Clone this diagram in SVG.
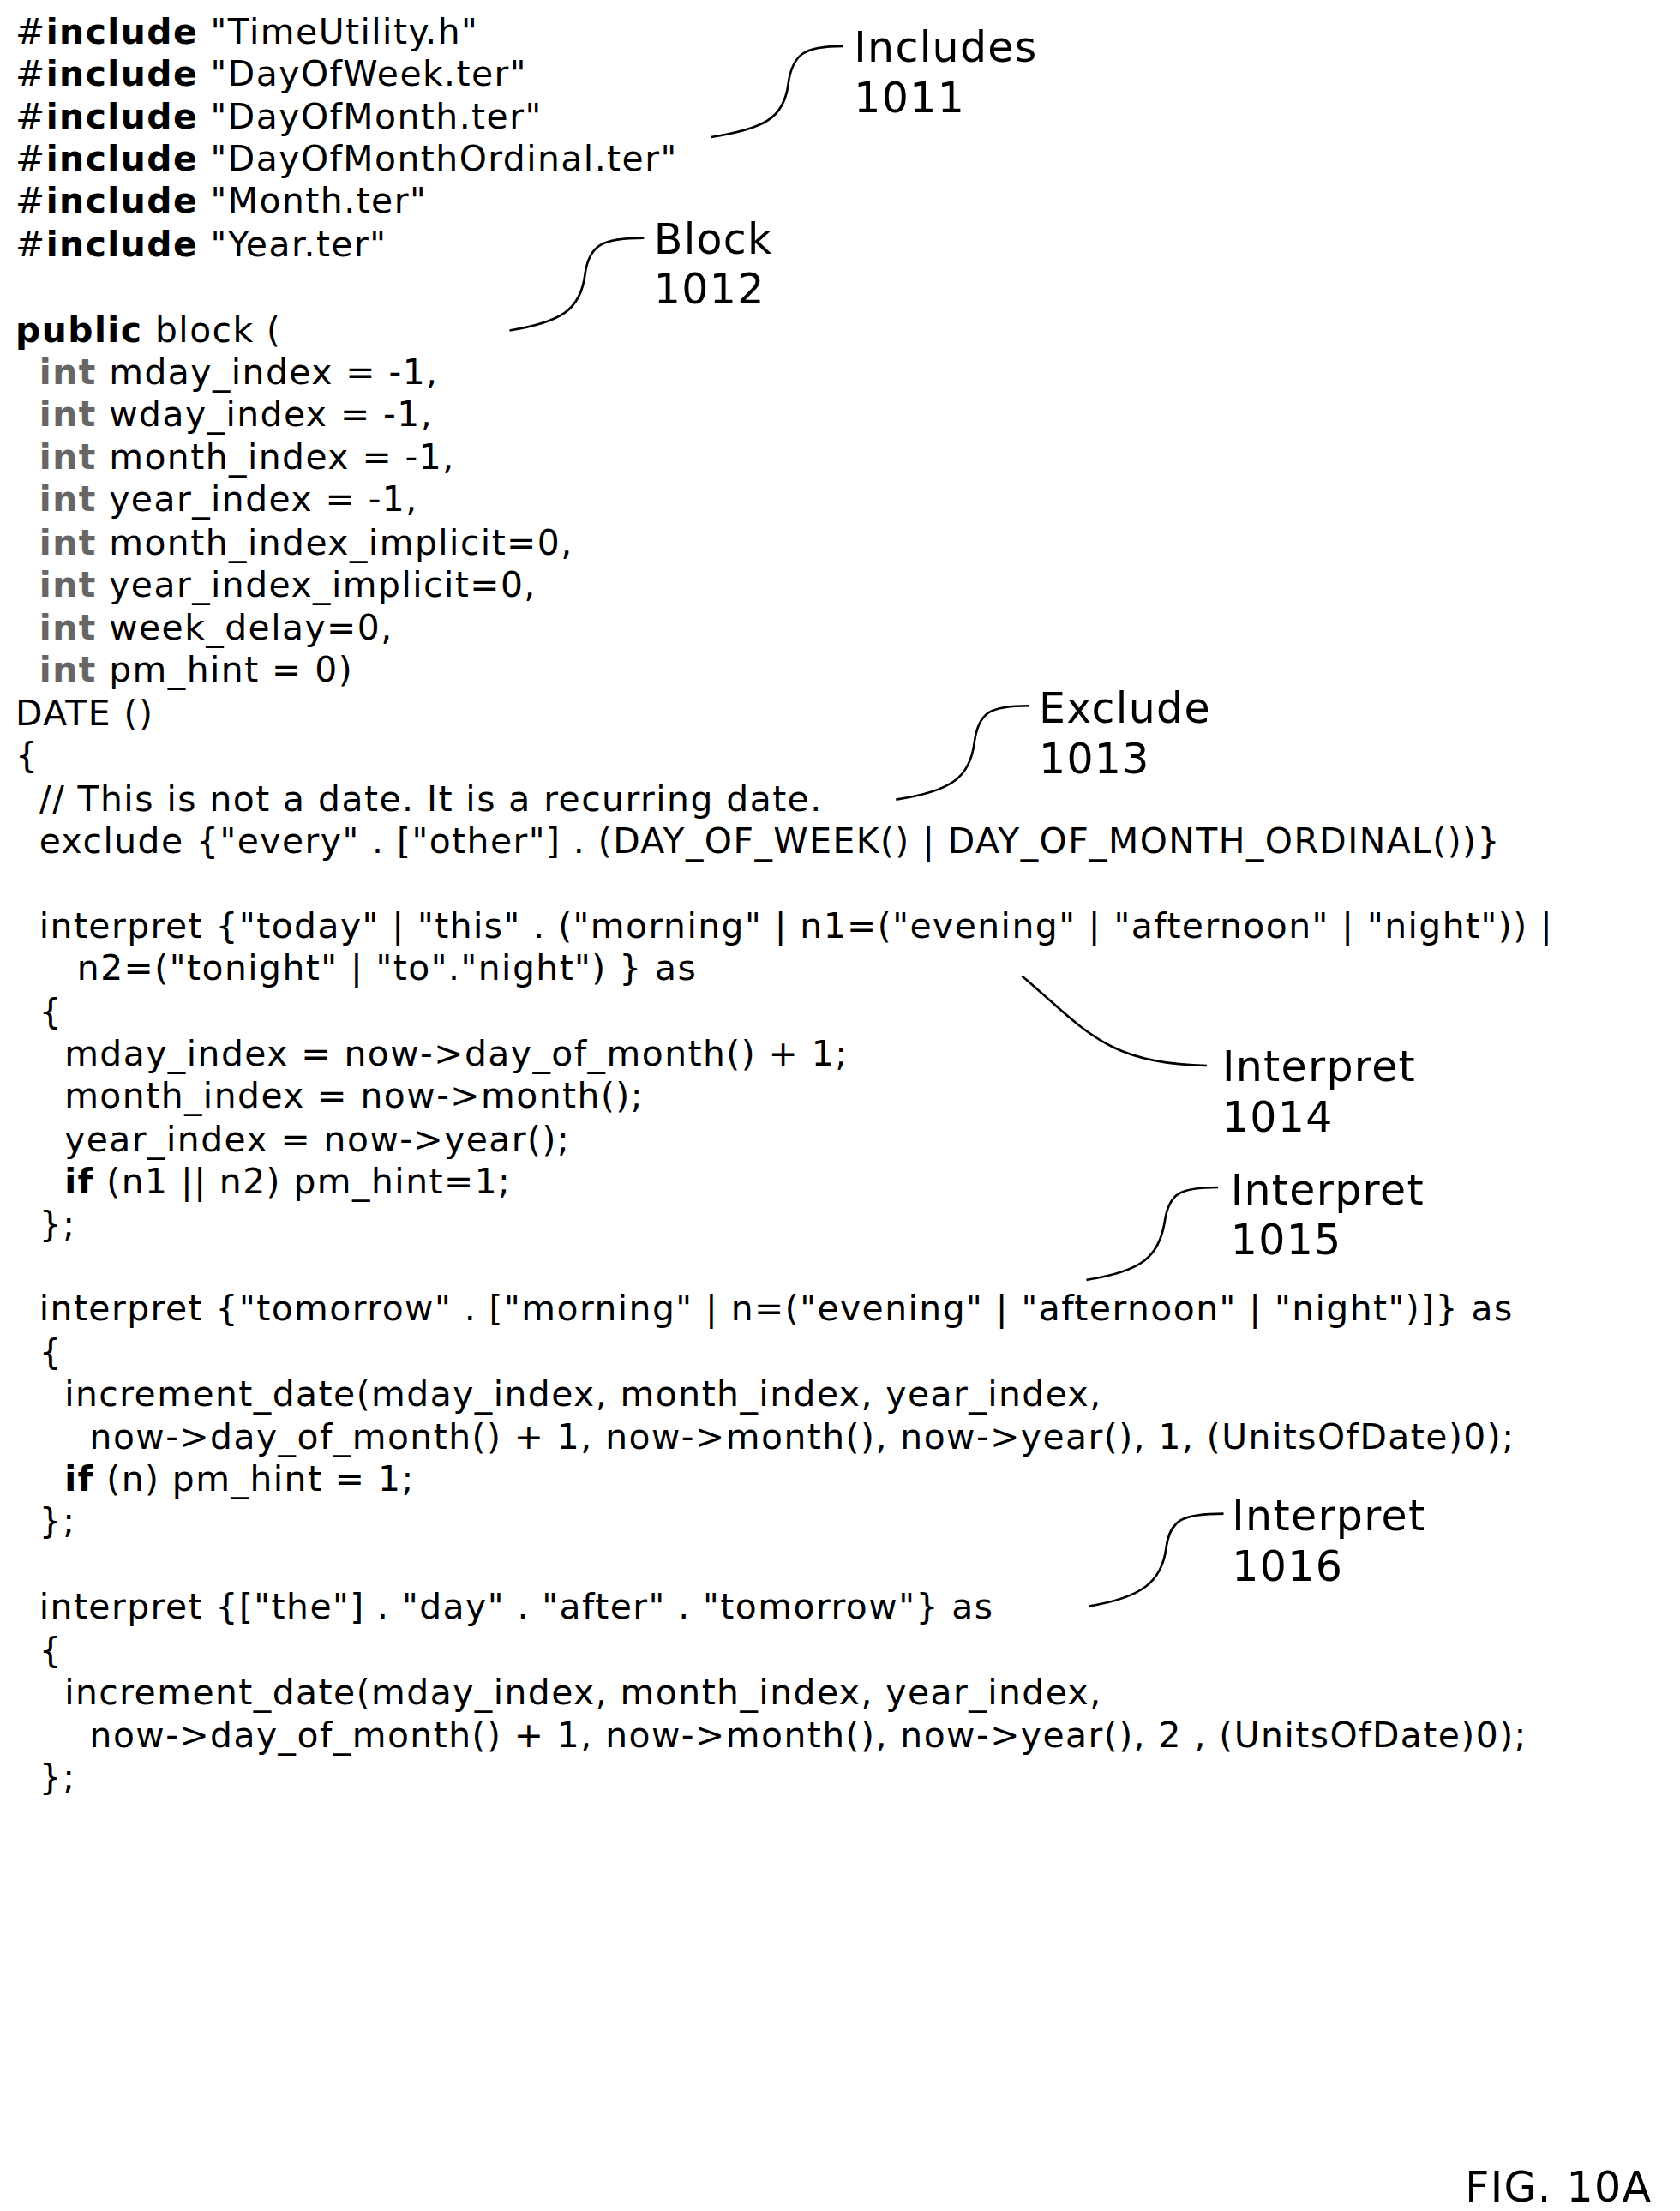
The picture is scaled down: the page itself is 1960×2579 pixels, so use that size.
<svg xmlns="http://www.w3.org/2000/svg" width="1960" height="2579" viewBox="0 0 1960 2579">
<style>
text{font-family:"DejaVu Sans",Verdana,sans-serif;fill:#000}
.c{font-size:25px;letter-spacing:0.9px}
.l{font-size:30px;letter-spacing:0.8px}
.b{font-weight:bold}
.i{font-weight:bold;fill:#666}
.ld{fill:none;stroke:#000;stroke-width:1.6}
</style>
<rect width="1960" height="2579" fill="#fff"/>
<g transform="scale(1.63333)">
<g id="code" class="c">
<text x="11" y="31">#<tspan class="b">include</tspan> "TimeUtility.h"</text>
<text x="11" y="61">#<tspan class="b">include</tspan> "DayOfWeek.ter"</text>
<text x="11" y="92">#<tspan class="b">include</tspan> "DayOfMonth.ter"</text>
<text x="11" y="122">#<tspan class="b">include</tspan> "DayOfMonthOrdinal.ter"</text>
<text x="11" y="152">#<tspan class="b">include</tspan> "Month.ter"</text>
<text x="11" y="183">#<tspan class="b">include</tspan> "Year.ter"</text>
<text x="11" y="244"><tspan class="b">public</tspan> block (</text>
<text x="28" y="274"><tspan class="i">int</tspan> mday_index = -1,</text>
<text x="28" y="304"><tspan class="i">int</tspan> wday_index = -1,</text>
<text x="28" y="335"><tspan class="i">int</tspan> month_index = -1,</text>
<text x="28" y="365"><tspan class="i">int</tspan> year_index = -1,</text>
<text x="28" y="396"><tspan class="i">int</tspan> month_index_implicit=0,</text>
<text x="28" y="426"><tspan class="i">int</tspan> year_index_implicit=0,</text>
<text x="28" y="457"><tspan class="i">int</tspan> week_delay=0,</text>
<text x="28" y="487"><tspan class="i">int</tspan> pm_hint = 0)</text>
<text x="11" y="518">DATE ()</text>
<text x="11" y="548">{</text>
<text x="28" y="579">// This is not a date. It is a recurring date.</text>
<text x="28" y="609">exclude {"every" . ["other"] . (DAY_OF_WEEK() | DAY_OF_MONTH_ORDINAL())}</text>
<text x="28" y="670">interpret {"today" | "this" . ("morning" | n1=("evening" | "afternoon" | "night")) |</text>
<text x="55" y="700">n2=("tonight" | "to"."night") } as</text>
<text x="28" y="731">{</text>
<text x="46" y="761">mday_index = now-&gt;day_of_month() + 1;</text>
<text x="46" y="791">month_index = now-&gt;month();</text>
<text x="46" y="822">year_index = now-&gt;year();</text>
<text x="46" y="852"><tspan class="b">if</tspan> (n1 || n2) pm_hint=1;</text>
<text x="28" y="883">};</text>
<text x="28" y="943">interpret {"tomorrow" . ["morning" | n=("evening" | "afternoon" | "night")]} as</text>
<text x="28" y="974">{</text>
<text x="46" y="1004">increment_date(mday_index, month_index, year_index,</text>
<text x="64" y="1035">now-&gt;day_of_month() + 1, now-&gt;month(), now-&gt;year(), 1, (UnitsOfDate)0);</text>
<text x="46" y="1065"><tspan class="b">if</tspan> (n) pm_hint = 1;</text>
<text x="28" y="1095">};</text>
<text x="28" y="1156">interpret {["the"] . "day" . "after" . "tomorrow"} as</text>
<text x="28" y="1187">{</text>
<text x="46" y="1217">increment_date(mday_index, month_index, year_index,</text>
<text x="64" y="1248">now-&gt;day_of_month() + 1, now-&gt;month(), now-&gt;year(), 2 , (UnitsOfDate)0);</text>
<text x="28" y="1278">};</text>
</g>
<g id="connectors">
<path class="ld" d="M508,98 C545,92 560,85 563,60 C566,38 575,33 602,33"/>
<path class="ld" d="M364,236 C400,230 415,222 418,195 C421,175 430,170 460,170"/>
<path class="ld" d="M640,571 C680,565 693,555 696,530 C699,508 708,504 735,504"/>
<path class="ld" d="M730,697 C775,735 790,760 862,761"/>
<path class="ld" d="M776,914 C815,908 828,898 832,872 C835,852 843,848 870,848"/>
<path class="ld" d="M778,1147 C815,1141 830,1130 833,1105 C836,1085 845,1081 874,1081"/>
</g>
<g id="label1011" class="l"><text x="610" y="44">Includes</text><text x="610" y="80">1011</text></g>
<g id="label1012" class="l"><text x="467" y="181">Block</text><text x="467" y="217">1012</text></g>
<g id="label1013" class="l"><text x="742" y="516">Exclude</text><text x="742" y="552">1013</text></g>
<g id="label1014" class="l"><text x="873" y="772">Interpret</text><text x="873" y="808">1014</text></g>
<g id="label1015" class="l"><text x="879" y="860">Interpret</text><text x="879" y="896">1015</text></g>
<g id="label1016" class="l"><text x="880" y="1093">Interpret</text><text x="880" y="1129">1016</text></g>
<g id="fig" class="l"><text x="1180" y="1572" text-anchor="end">FIG. 10A</text></g>
</g>
</svg>
